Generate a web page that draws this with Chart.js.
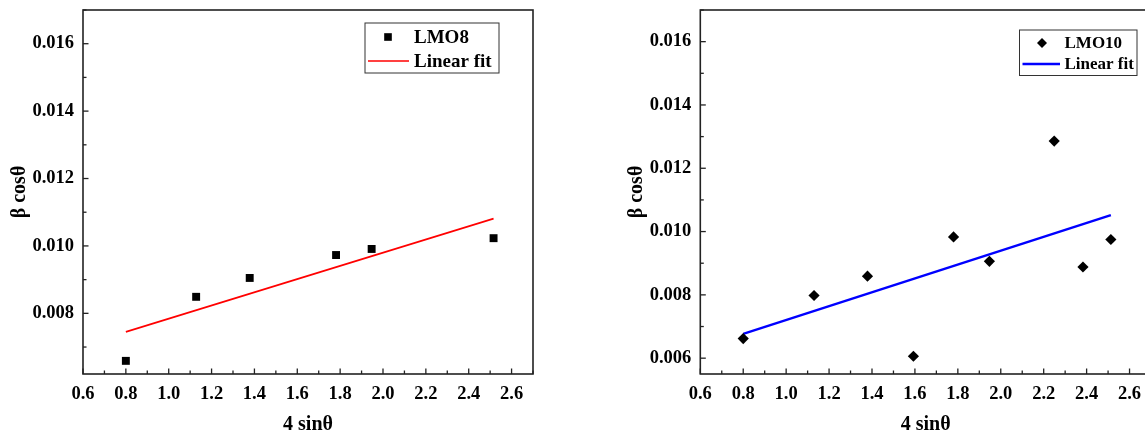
<!DOCTYPE html>
<html><head><meta charset="utf-8">
<script src="https://cdn.jsdelivr.net/npm/chart.js@4.4.0/dist/chart.umd.min.js"></script>
<style>
html,body{margin:0;padding:0;background:#fff;overflow:hidden;width:1145px;height:437px;position:relative;}
#c1{position:absolute;left:0;top:0;}
#c2{position:absolute;left:617px;top:0;}
</style></head><body>
<canvas id="c1" width="560" height="437"></canvas>
<canvas id="c2" width="562" height="437"></canvas>
<script>
// ---- data ----
const lmo8X = [0.80, 1.128, 1.378, 1.781, 1.947, 2.516];
const lmo8Y = [0.00659, 0.00849, 0.00905, 0.00973, 0.00991, 0.01023];
const fit8X = [0.80, 2.516];
const fit8Y = [0.00745, 0.01081];

const lmo10X = [0.80, 1.130, 1.379, 1.593, 1.780, 1.947, 2.249, 2.383, 2.513];
const lmo10Y = [0.00662, 0.00798, 0.00859, 0.00606, 0.00983, 0.00906, 0.01286, 0.00888, 0.00975];
const fit10X = [0.80, 2.513];
const fit10Y = [0.00677, 0.01052];

const xTickLabels = ['0.6','0.8','1.0','1.2','1.4','1.6','1.8','2.0','2.2','2.4','2.6'];
const yTickLabels8 = ['0.008','0.010','0.012','0.014','0.016'];
const yTickLabels10 = ['0.006','0.008','0.010','0.012','0.014','0.016'];

const FONT = 'Liberation Serif';
const AXIS = '#222';

const framePlugin = {
  id: 'frameTicks',
  afterDraw(chart) {
    const ctx = chart.ctx, a = chart.chartArea;
    ctx.save();
    ctx.strokeStyle = AXIS;
    ctx.lineWidth = 1.6;
    ctx.strokeRect(a.left, a.top, a.right - a.left, a.bottom - a.top);
    ctx.lineWidth = 1.3;
    ['x', 'y'].forEach(id => {
      const s = chart.scales[id];
      s.ticks.forEach(t => {
        const major = t.label !== '';
        const L = major ? 5.5 : 3.5;
        const p = s.getPixelForValue(t.value);
        ctx.beginPath();
        if (id === 'x') { ctx.moveTo(p, a.bottom); ctx.lineTo(p, a.bottom - L); }
        else { ctx.moveTo(a.left, p); ctx.lineTo(a.left + L, p); }
        ctx.stroke();
      });
    });
    ctx.restore();
  }
};

const boxLegendPlugin = {
  id: 'boxLegend',
  afterDraw(chart, args, opts) {
    if (!opts || !opts.box) return;
    const ctx = chart.ctx;
    const [x1, y1, x2, y2] = opts.box;
    ctx.save();
    ctx.fillStyle = '#fff';
    ctx.fillRect(x1, y1, x2 - x1, y2 - y1);
    ctx.strokeStyle = '#333';
    ctx.lineWidth = 1;
    ctx.strokeRect(x1, y1, x2 - x1, y2 - y1);
    const dsP = chart.data.datasets[0], dsL = chart.data.datasets[1];
    const mx = opts.markerX, my = opts.rows[0];
    const r = opts.markerR;
    ctx.fillStyle = dsP.backgroundColor;
    ctx.beginPath();
    if (dsP.pointStyle === 'rectRot') {
      ctx.moveTo(mx - r, my); ctx.lineTo(mx, my - r); ctx.lineTo(mx + r, my); ctx.lineTo(mx, my + r); ctx.closePath();
    } else {
      const h = r * Math.SQRT1_2;
      ctx.rect(mx - h, my - h, 2 * h, 2 * h);
    }
    ctx.fill();
    ctx.strokeStyle = dsL.borderColor;
    ctx.lineWidth = dsL.borderWidth;
    ctx.beginPath();
    ctx.moveTo(opts.lineX[0], opts.rows[1]);
    ctx.lineTo(opts.lineX[1], opts.rows[1]);
    ctx.stroke();
    ctx.fillStyle = '#000';
    ctx.font = 'bold ' + opts.fontSize + 'px "' + FONT + '"';
    ctx.textBaseline = 'middle';
    ctx.textAlign = 'left';
    ctx.fillText(dsP.label, opts.textX, opts.rows[0] + 1);
    ctx.fillText(dsL.label, opts.textX, opts.rows[1] + 1);
    ctx.restore();
  }
};

function pts(xs, ys) { return xs.map((x, i) => ({x: x, y: ys[i]})); }

function makeChart(id, cfg) {
  const tickFont = {family: FONT, weight: 'bold', size: 18.5};
  const titleFont = {family: FONT, weight: 'bold', size: 20};
  return new Chart(document.getElementById(id), {
    type: 'scatter',
    data: {
      datasets: [
        {label: cfg.name, data: cfg.points, pointStyle: cfg.pointStyle, pointRadius: cfg.r,
         backgroundColor: '#000', borderColor: '#000', borderWidth: 0, showLine: false},
        {label: 'Linear fit', data: cfg.fit, showLine: true, borderColor: cfg.lineColor,
         borderWidth: cfg.lw, pointRadius: 0, fill: false, backgroundColor: cfg.lineColor}
      ]
    },
    options: {
      responsive: false, animation: false, devicePixelRatio: 1,
      layout: {padding: {top: 10, right: cfg.padRight, left: 0, bottom: 0}},
      plugins: {legend: {display: false}, tooltip: {enabled: false}, boxLegend: cfg.legend},
      scales: {
        x: {
          type: 'linear', min: 0.6, max: 2.7,
          afterFit: s => { s.height = 63; s.paddingLeft = 0; s.paddingRight = 0; },
          ticks: {stepSize: 0.1, includeBounds: false, autoSkip: false, maxRotation: 0, padding: 9,
                  color: '#000', font: tickFont,
                  callback: v => { const s = Number(v).toFixed(1); return xTickLabels.includes(s) ? s : ''; }},
          grid: {display: false, drawTicks: false},
          border: {display: false},
          title: {display: true, text: '4 sinθ', color: '#000', font: titleFont, padding: {top: 0, bottom: 0}}
        },
        y: {
          type: 'linear', min: cfg.ymin, max: 0.017,
          afterFit: s => { s.width = cfg.yWidth; s.paddingTop = 0; s.paddingBottom = 0; },
          ticks: {stepSize: 0.001, includeBounds: false, autoSkip: false, padding: 9,
                  color: '#000', font: tickFont,
                  callback: v => { const s = Number(v).toFixed(3); return cfg.yLabels.includes(s) ? s : ''; }},
          grid: {display: false, drawTicks: false},
          border: {display: false},
          title: {display: true, text: 'β cosθ', color: '#000', font: titleFont, padding: {top: 7.5, bottom: 0}}
        }
      }
    },
    plugins: [framePlugin, boxLegendPlugin]
  });
}

makeChart('c1', {
  name: 'LMO8', points: pts(lmo8X, lmo8Y), fit: pts(fit8X, fit8Y),
  pointStyle: 'rect', r: 5.6, lineColor: '#ff0000', lw: 1.6,
  ymin: 0.0062, yLabels: yTickLabels8, yWidth: 83, padRight: 27,
  legend: {box: [365, 23, 499, 73], rows: [37, 61], markerX: 388, markerR: 5.4, lineX: [368, 409], textX: 414, fontSize: 19}
});

makeChart('c2', {
  name: 'LMO10', points: pts(lmo10X, lmo10Y), fit: pts(fit10X, fit10Y),
  pointStyle: 'rectRot', r: 5.6, lineColor: '#0000ff', lw: 2.4,
  ymin: 0.0055, yLabels: yTickLabels10, yWidth: 83.3, padRight: 28,
  legend: {box: [402.5, 30, 520, 75.5], rows: [43, 64], markerX: 425, markerR: 5, lineX: [405.5, 443], textX: 447.5, fontSize: 17}
});
</script>
</body></html>
